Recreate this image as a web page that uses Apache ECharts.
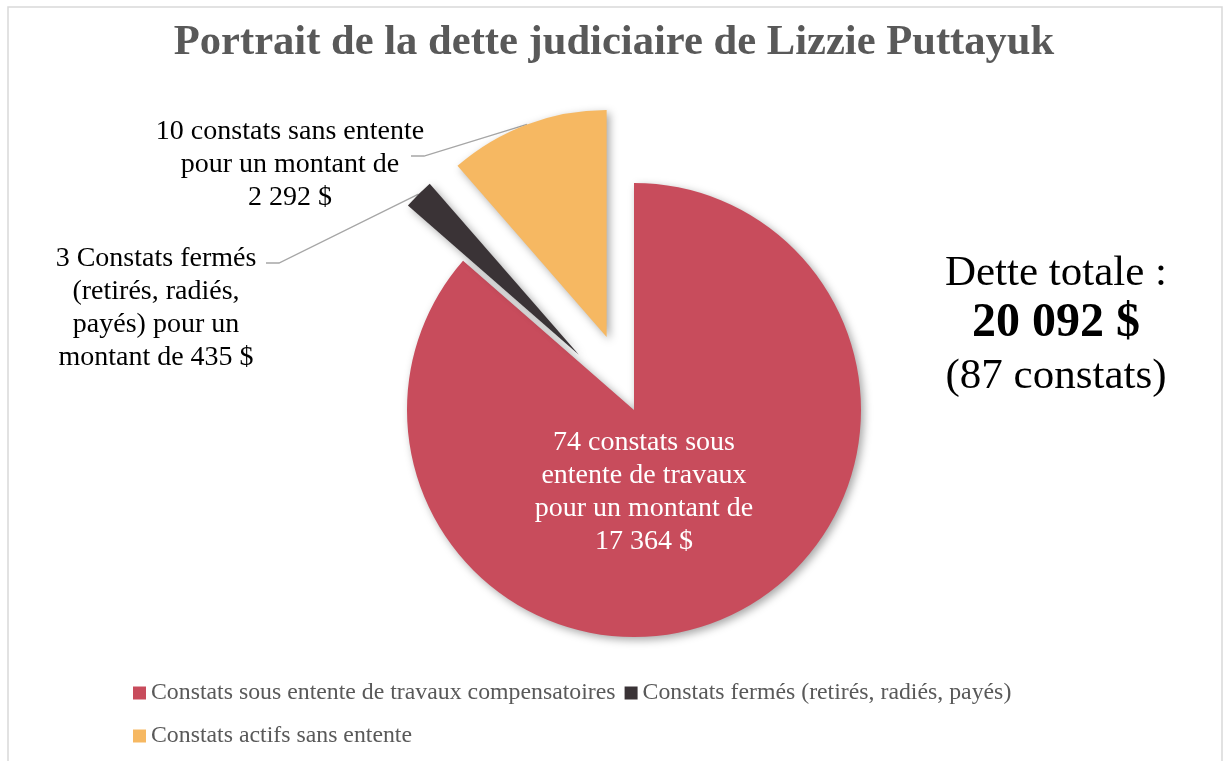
<!DOCTYPE html>
<html>
<head>
<meta charset="utf-8">
<script src="https://cdn.jsdelivr.net/npm/echarts@6/dist/echarts.min.js"></script>
<style>
  html, body { margin: 0; padding: 0; background: #fff; }
  #chart { width: 1228px; height: 761px; }
</style>
</head>
<body>
<div id="chart"></div>
<script>
  const SERIF = "'Liberation Serif', 'Times New Roman', serif";

  // slices, clockwise from 12 o'clock
  const categories = [
    "Constats sous entente de travaux compensatoires",
    "Constats fermés (retirés, radiés, payés)",
    "Constats actifs sans entente",
  ];
  const amounts = [17364, 435, 2292];
  const counts = [74, 3, 10];
  const sliceLabels = [
    "74 constats sous\nentente de travaux\npour un montant de\n17 364 $",
    "3 Constats fermés\n(retirés, radiés,\npayés) pour un\nmontant de 435 $",
    "10 constats sans entente\npour un montant de\n2 292 $",
  ];
  const exploded = [false, true, true];
  const colors = ["#c84c5c", "#3a3336", "#f6b862"];

  const totalText = "20 092 $";
  const totalCount = 87;

  const EXPLODE = 78;
  // where each slice label should be centered, and the elbow of its leader (px)
  const LABEL_POS = [[644, 492], [156, 308], [290, 165]];
  const ELBOW = [null, [[266, 263], [279, 263]], [[411, 156], [424, 156]]];

  // selected slices get translated (label + leader too) after layout,
  // so undo that shift when placing things in page coordinates
  const total = amounts.reduce((a, b) => a + b, 0);
  function sliceShift(i) {
    if (!exploded[i]) return [0, 0];
    let cum = 0;
    for (let k = 0; k < i; k++) cum += amounts[k];
    const mid = (cum + amounts[i] / 2) / total * Math.PI * 2;
    return [Math.sin(mid) * EXPLODE, -Math.cos(mid) * EXPLODE];
  }

  const inst = echarts.init(document.getElementById("chart"), null, { renderer: "canvas" });

  inst.setOption({
    animation: false,
    backgroundColor: "#ffffff",
    title: {
      text: "Portrait de la dette judiciaire de Lizzie Puttayuk",
      left: "center", top: 16,
      textStyle: { fontFamily: SERIF, fontSize: 42.6, fontWeight: "bold", color: "#595959" },
    },
    legend: {
      left: 128, top: 671, width: 950,
      itemWidth: 13, itemHeight: 13, itemGap: 9,
      icon: "rect",
      selectedMode: false,
      textStyle: { fontFamily: SERIF, fontSize: 23.8, color: "#595959", lineHeight: 34 },
      data: categories,
    },
    graphic: [
      {
        type: "rect", silent: true, z: -10,
        shape: { x: 8, y: 7, width: 1214, height: 780 },
        style: { fill: "none", stroke: "#d9d9d9", lineWidth: 1.5 },
      },
      {
        type: "text", x: 1056, y: 274, silent: true,
        style: { text: "Dette totale :", font: "43px " + SERIF, fill: "#000", align: "center", verticalAlign: "middle" },
      },
      {
        type: "text", x: 1056, y: 324, silent: true,
        style: { text: totalText, font: "bold 48px " + SERIF, fill: "#000", align: "center", verticalAlign: "middle" },
      },
      {
        type: "text", x: 1056, y: 377, silent: true,
        style: { text: "(" + totalCount + " constats)", font: "43px " + SERIF, fill: "#000", align: "center", verticalAlign: "middle" },
      },
    ],
    series: [{
      type: "pie",
      center: [634, 410], radius: 227,
      startAngle: 90, clockwise: true,
      selectedMode: "multiple", selectedOffset: EXPLODE,
      emphasis: { disabled: true },
      itemStyle: {
        shadowBlur: 8, shadowOffsetX: 3, shadowOffsetY: 3,
        shadowColor: "rgba(0,0,0,0.35)",
      },
      label: {
        fontFamily: SERIF, fontSize: 28, lineHeight: 33, color: "#000",
        align: "center",
        formatter: (p) => sliceLabels[p.dataIndex],
      },
      labelLine: {
        lineStyle: { color: "#a6a6a6", width: 1.3 },
        length: 20, length2: 12,
      },
      labelLayout: (p) => {
        const i = p.dataIndex;
        const pos = LABEL_POS[i];
        const s = sliceShift(i);
        const r = p.labelRect;
        let dx = pos[0] - (r.x + r.width / 2) - s[0];
        // text anchor moves from the side to the middle when re-aligned
        if (p.align === "right") dx -= r.width / 2;
        else if (p.align === "left") dx += r.width / 2;
        const out = { dx, dy: pos[1] - (r.y + r.height / 2) - s[1], align: "center" };
        if (ELBOW[i] && p.labelLinePoints) {
          out.labelLinePoints = [
            p.labelLinePoints[0],
            [ELBOW[i][1][0] - s[0], ELBOW[i][1][1] - s[1]],
            [ELBOW[i][0][0] - s[0], ELBOW[i][0][1] - s[1]],
          ];
        }
        return out;
      },
      data: categories.map((name, i) => ({
        name,
        value: amounts[i],
        count: counts[i],
        selected: exploded[i],
        itemStyle: { color: colors[i] },
        label: i === 0 ? { position: "inside", color: "#fff" } : { position: "outside" },
        labelLine: { show: i !== 0 },
      })),
    }],
  });
</script>
</body>
</html>
